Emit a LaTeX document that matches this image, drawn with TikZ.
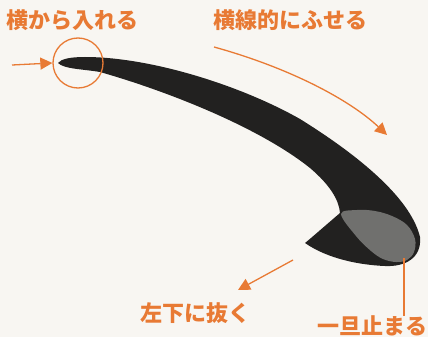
\documentclass[tikz,border=0pt]{standalone}
\usepackage{fontspec}
\newfontfamily\jpfont{Noto Sans CJK JP}
\usetikzlibrary{arrows.meta}
\definecolor{paper}{RGB}{248,246,242}
\definecolor{ink}{RGB}{34,33,32}
\definecolor{inkgray}{RGB}{112,112,110}
\definecolor{accent}{RGB}{232,122,52}
\tikzset{
  label/.style={text=accent, font=\jpfont\bfseries\fontsize{22}{24}\selectfont, inner sep=0pt},
  pointer/.style={draw=accent, line width=1.3pt, -{Triangle[length=12pt,width=12pt]}},
  guide/.style={draw=accent, line width=1.3pt},
}
\begin{document}
\begin{tikzpicture}[x=1pt,y=-1pt]
  \fill[paper] (0,0) rectangle (428,337);
  \useasboundingbox (0,0) rectangle (428,337);

  % brush stroke body: outer edge, head, flick, then inner edge back to the tip
  \fill[ink] (58,63)
    .. controls (61,59) and (70,57) .. (85,57)
    .. controls (150,57) and (240,85) .. (300,119)
    .. controls (350,150) and (410,195) .. (420,237)
    .. controls (422,258) and (405,267) .. (385,266)
    .. controls (360,265) and (328,259) .. (305,243)
    -- (311,238) -- (340,213)
    .. controls (339,200) and (330,185) .. (310,168)
    .. controls (260,128) and (170,92) .. (100,72)
    .. controls (82,69) and (64,69) .. (58,63)
    -- cycle;

  % pressed end of the stroke
  \fill[inkgray] plot[smooth cycle, tension=0.6] coordinates {
      (341,214) (357,210) (375,211) (392,216) (407,225) (415,239)
      (414,252) (407,260) (396,262) (383,259) (371,251) (356,236)};

  % labels
  \node[label] (entry)  at (72,20)  {横から入れる};
  \node[label] (sweep)  at (290,20) {横線的にふせる};
  \node[label] (flick)  at (195,313) {左下に抜く};
  \node[label] (pause)  at (372,326) {一旦止まる};

  % marks on the stroke
  \node[draw=accent, line width=1.3pt, circle, minimum size=50pt, inner sep=0pt] (tip) at (78,63) {};
  \coordinate (inS) at (12,65);
  \coordinate (sweepS) at (214,47);
  \coordinate (sweepE) at (387,135);
  \coordinate (flickS) at (293,260);
  \coordinate (flickE) at (238,290);
  \coordinate (stopP) at (404,258);

  \draw[pointer] (inS) -- (tip.west);
  \draw[pointer] (sweepS) .. controls (290,68) and (350,100) .. (sweepE);
  \draw[pointer] (flickS) -- (flickE);
  \draw[guide] (stopP) -- (pause.north -| stopP);
\end{tikzpicture}
\end{document}
